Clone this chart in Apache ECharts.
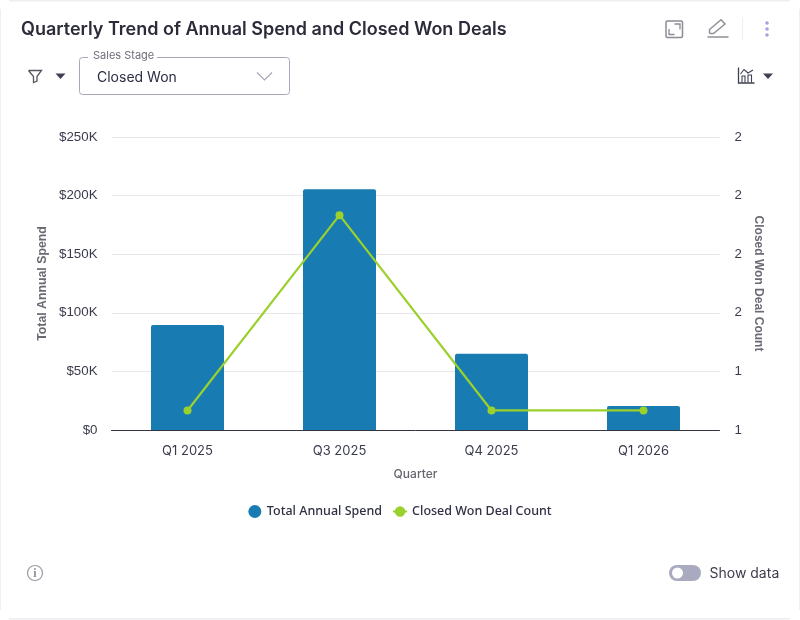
<!DOCTYPE html>
<html>
<head>
<meta charset="utf-8">
<style>html,body{margin:0;padding:0;background:#fff}#c{width:800px;height:620px}</style>
<script src="https://cdn.jsdelivr.net/npm/echarts@6/dist/echarts.min.js"></script>
</head>
<body>
<div id="c"></div>
<script>
const categories = ['Q1 2025','Q3 2025','Q4 2025','Q1 2026'];
const totalAnnualSpend = [89500, 205500, 65000, 20500];
const closedWonDealCount = [1, 2, 1, 1];
const spendTicks = {min:0,max:250000,interval:50000};
const countTicks = {min:0.9,max:2.4,interval:0.3};

const chart = echarts.init(document.getElementById('c'),null,{renderer:'canvas'});
const ink='#2b2d42', ui='Inter';
const ln=(x1,y1,x2,y2,stroke,w)=>({type:'line',silent:true,shape:{x1,y1,x2,y2},style:{stroke,lineWidth:w||1,fill:null}});
const pl=(points,stroke,w)=>({type:'polyline',silent:true,shape:{points},style:{stroke,lineWidth:w||1.5,fill:null}});
const tri=(cx,cy,col)=>({type:'polygon',silent:true,shape:{points:[[cx-5,cy-2.5],[cx+5,cy-2.5],[cx,cy+3]]},style:{fill:col}});
const txt=(x,y,text,font,fill,align)=>({type:'text',silent:true,x,y,style:{text,font,fill,textAlign:align||'left',textVerticalAlign:'middle'}});
const graphics=[
  ln(9,0.75,790,0.75,'#eeeef3',1.5), ln(0.5,9,0.5,610,'#eeeef3',1), ln(799.5,9,799.5,610,'#eeeef3',1), ln(9,618.75,790,618.75,'#eeeef3',1.5),
  {type:'rect',silent:true,shape:{x:666,y:21,width:16.5,height:16.5,r:1.5},style:{stroke:'#8b8b95',lineWidth:1.5,fill:null}},
  pl([[669,29],[669,34.5],[674.5,34.5]],'#8b8b95',1.3), pl([[674.5,24],[680,24],[680,29.5]],'#8b8b95',1.3),
  pl([[709.5,33.5],[709.5,29.5],[721,19.8],[725,24],[713.5,33.5],[709.5,33.5]],'#8f8f99',1.5),
  ln(707.5,37,728.5,37,'#8f8f99',1.5),
  ln(742.5,17,742.5,40,'#eeeef3',1),
  {type:'circle',silent:true,shape:{cx:767,cy:23,r:1.8},style:{fill:'#a3a3e0'}},
  {type:'circle',silent:true,shape:{cx:767,cy:29,r:1.8},style:{fill:'#a3a3e0'}},
  {type:'circle',silent:true,shape:{cx:767,cy:35,r:1.8},style:{fill:'#a3a3e0'}},
  pl([[28.5,70.5],[41.5,70.5],[37,76.5],[37,81],[33.5,82.5],[33.5,76.5],[28.5,70.5]],'#55565f',1.3),
  tri(60.5,76,'#3f4052'),
  {type:'rect',silent:true,shape:{x:79.5,y:57.5,width:210,height:37,r:3},style:{stroke:'#a8a8bd',lineWidth:1,fill:'#fff'}},
  {type:'rect',silent:true,shape:{x:88,y:52,width:69,height:8},style:{fill:'#fff'}},
  txt(93,55.5,'Sales Stage','11px '+ui,'#6e6e78'),
  txt(97,77.5,'Closed Won','14px '+ui,ink),
  pl([[257,72.5],[264.5,80],[272,72.5]],'#a8a8b4',1.2),
  pl([[738.5,67.5],[738.5,83],[754.5,83]],'#3f4052',1.3),
  pl([[740.5,74],[744,69.5],[748,73],[753,70]],'#3f4052',1.1),
  pl([[742,82.5],[742,76],[745,76],[745,82.5]],'#3f4052',1.1),
  pl([[748,82.5],[748,75],[751.5,75],[751.5,82.5]],'#3f4052',1.1),
  tri(768,76,'#3f4052'),
  {type:'circle',silent:true,shape:{cx:35,cy:573,r:7.5},style:{stroke:'#9a9aa6',lineWidth:1.2,fill:null}},
  txt(35,573.5,'i','bold 12px "Liberation Serif"','#8f8f9a','center'),
  {type:'rect',silent:true,shape:{x:669,y:565,width:32,height:16,r:8},style:{fill:'#a9a9bf'}},
  {type:'circle',silent:true,shape:{cx:677.5,cy:573,r:5.5},style:{fill:'#fff'}},
  txt(709.5,573.5,'Show data','14px '+ui,'#3d3e4c')
];
chart.setOption({
  animation:false,
  backgroundColor:'#fff',
  title:{text:'Quarterly Trend of Annual Spend and Closed Won Deals',left:21,top:19,padding:0,
    textStyle:{fontFamily:ui,fontSize:18,fontWeight:600,color:'#2b2b3a',lineHeight:21}},
  grid:{left:111.5,right:80.5,top:137,bottom:190,containLabel:false},
  legend:{top:500,left:'center',itemGap:10,itemWidth:14,itemHeight:13,
    textStyle:{fontFamily:'"Noto Sans"',fontSize:12.5,fontWeight:500,color:'#2f3044'},
    data:[{name:'Total Annual Spend',icon:'circle'},{name:'Closed Won Deal Count'}]},
  xAxis:{type:'category',data:categories,name:'Quarter',nameLocation:'middle',nameGap:38,
    nameTextStyle:{fontFamily:ui,fontSize:12,fontWeight:500,color:'#65656f'},
    axisLine:{show:true,lineStyle:{color:'#33343d',width:1}},axisTick:{show:false},
    axisLabel:{fontFamily:ui,fontSize:13,color:'#3a3b4c',margin:15}},
  yAxis:[
    {type:'value',position:'left',...spendTicks,name:'Total Annual Spend',nameLocation:'middle',nameGap:63,
     nameTextStyle:{fontFamily:'"Liberation Sans"',fontSize:12.3,fontWeight:'bold',color:'#6a6a74'},
     axisLine:{show:false},axisTick:{show:false},
     splitLine:{show:true,lineStyle:{color:'#e7e7e9',width:1}},
     axisLabel:{fontFamily:'"Liberation Sans"',fontSize:13.3,color:'#3a3b4c',margin:14,formatter:v=>v===0?'$0':'$'+(v/1000)+'K'}},
    {type:'value',position:'right',...countTicks,name:'Closed Won Deal Count',nameLocation:'middle',nameGap:29,nameRotate:-90,
     nameTextStyle:{fontFamily:'"Liberation Sans"',fontSize:12,fontWeight:'bold',color:'#6a6a74'},
     axisLine:{show:false},axisTick:{show:false},splitLine:{show:false},
     axisLabel:{fontFamily:'"Liberation Sans"',fontSize:13.3,color:'#3a3b4c',margin:15,formatter:v=>String(Math.round(v))}}
  ],
  series:[
    {name:'Total Annual Spend',type:'bar',data:totalAnnualSpend,yAxisIndex:0,barWidth:73,
     itemStyle:{color:'#187cb3',borderRadius:[2,2,0,0]}},
    {name:'Closed Won Deal Count',type:'line',data:closedWonDealCount,yAxisIndex:1,symbol:'circle',symbolSize:8,
     lineStyle:{color:'#9bd02d',width:2.2},itemStyle:{color:'#9bd02d'}}
  ],
  graphic:graphics
});
</script>
</body>
</html>
